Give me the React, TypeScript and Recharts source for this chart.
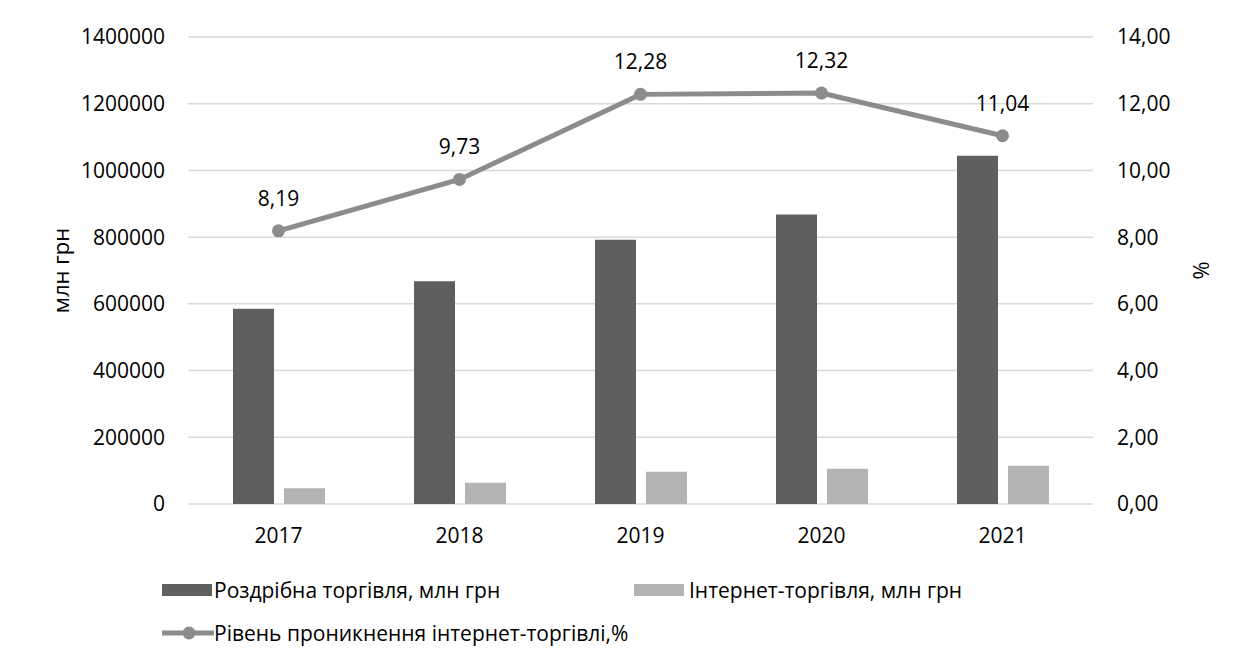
import React from 'react';
import {
  ComposedChart,
  Bar,
  Line,
  XAxis,
  YAxis,
  CartesianGrid,
  LabelList,
  Label,
} from 'recharts';

const years = ['2017', '2018', '2019', '2020', '2021'];
const retail = [585000, 668000, 792000, 868000, 1044000];
const online = [47000, 64000, 97000, 106000, 115000];
const penetration = [8.19, 9.73, 12.28, 12.32, 11.04];
const leftTicks = [0, 200000, 400000, 600000, 800000, 1000000, 1200000, 1400000];
const rightTicks = [0, 2, 4, 6, 8, 10, 12, 14];

const seriesNames = [
  'Роздрібна торгівля, млн грн',
  'Інтернет-торгівля, млн грн',
  'Рівень проникнення інтернет-торгівлі,%',
];

const data = years.map((y, i) => ({
  year: y,
  retail: retail[i],
  online: online[i],
  pen: penetration[i],
}));

const FONT = '"Open Sans", "Noto Sans", sans-serif';
const DARK = '#5f5f5f';
const LIGHT = '#b3b3b3';
const LINE = '#8c8c8c';
const TXT = '#000000';
const FS = 21;

const fmtPct = (v: number) => v.toFixed(2).replace('.', ',');

const LeftTitle = (props: any) => {
  const vb = props.viewBox || {};
  const x = vb.x - 18;
  const y = vb.y + vb.height / 2;
  return (
    <text
      x={x}
      y={y}
      transform={`rotate(-90, ${x}, ${y})`}
      textAnchor="middle"
      dominantBaseline="central"
      fontSize={22}
      fontFamily={FONT}
      fill={TXT}
    >
      млн грн
    </text>
  );
};

const RightTitle = (props: any) => {
  const vb = props.viewBox || {};
  const x = vb.x + 107;
  const y = vb.y + vb.height / 2;
  return (
    <text
      x={x}
      y={y}
      transform={`rotate(-90, ${x}, ${y})`}
      textAnchor="middle"
      dominantBaseline="central"
      fontSize={22}
      fontFamily={FONT}
      fill={TXT}
    >
      %
    </text>
  );
};

export default function App() {
  return (
    <div
      style={{
        position: 'relative',
        width: 1240,
        height: 660,
        marginLeft: -1,
        marginTop: -1,
        border: '1px solid #d9d9d9',
        background: '#fff',
        fontFamily: FONT,
        boxSizing: 'content-box',
      }}
    >
      <ComposedChart
        width={1232}
        height={652}
        data={data}
        margin={{ top: 29, right: 27, left: 70, bottom: 96 }}
        barGap={10}
        barSize={41}
      >
        <CartesianGrid
          vertical={false}
          stroke="#d9d9d9"
          strokeWidth={1.5}
          yAxisId="left"
        />
        <XAxis
          dataKey="year"
          axisLine={false}
          tickLine={false}
          tickSize={0}
          tickMargin={24}
          height={60}
          tick={{ fontSize: FS, fontFamily: FONT, fill: TXT }}
        />
        <YAxis
          yAxisId="left"
          orientation="left"
          width={110}
          domain={[0, 1400000]}
          ticks={leftTicks}
          interval={0}
          axisLine={false}
          tickLine={false}
          tickSize={0}
          tickMargin={23}
          tick={{ fontSize: FS, fontFamily: FONT, fill: TXT }}
        >
          <Label content={<LeftTitle />} />
        </YAxis>
        <YAxis
          yAxisId="right"
          orientation="right"
          width={120}
          domain={[0, 14]}
          ticks={rightTicks}
          interval={0}
          tickFormatter={fmtPct}
          axisLine={false}
          tickLine={false}
          tickSize={0}
          tickMargin={24}
          tick={{ fontSize: FS, fontFamily: FONT, fill: TXT }}
        >
          <Label content={<RightTitle />} />
        </YAxis>
        <Bar
          yAxisId="left"
          dataKey="retail"
          name={seriesNames[0]}
          fill={DARK}
          isAnimationActive={false}
        />
        <Bar
          yAxisId="left"
          dataKey="online"
          name={seriesNames[1]}
          fill={LIGHT}
          isAnimationActive={false}
        />
        <Line
          yAxisId="right"
          dataKey="pen"
          name={seriesNames[2]}
          stroke={LINE}
          strokeWidth={5}
          dot={{ r: 6.5, fill: LINE, stroke: LINE, strokeWidth: 0 }}
          activeDot={false}
          isAnimationActive={false}
        >
          <LabelList
            dataKey="pen"
            position="top"
            offset={25}
            formatter={(v: any) => fmtPct(Number(v))}
            style={{ fontSize: FS, fontFamily: FONT, fill: TXT }}
          />
        </Line>
      </ComposedChart>

      {/* Legend */}
      <div style={{ position: 'absolute', left: 154, top: 567, height: 30, display: 'flex', alignItems: 'center' }}>
        <div style={{ width: 50, height: 12, background: DARK }} />
        <span style={{ marginLeft: 2, fontSize: FS, color: TXT, whiteSpace: 'nowrap' }}>{seriesNames[0]}</span>
      </div>
      <div style={{ position: 'absolute', left: 626, top: 567, height: 30, display: 'flex', alignItems: 'center' }}>
        <div style={{ width: 50, height: 12, background: LIGHT }} />
        <span style={{ marginLeft: 5, fontSize: FS, color: TXT, whiteSpace: 'nowrap' }}>{seriesNames[1]}</span>
      </div>
      <div style={{ position: 'absolute', left: 154, top: 610, height: 30, display: 'flex', alignItems: 'center' }}>
        <svg width={52} height={16} style={{ display: 'block' }}>
          <line x1={0} y1={8} x2={52} y2={8} stroke={LINE} strokeWidth={5} />
          <circle cx={27} cy={8} r={6.5} fill={LINE} />
        </svg>
        <span style={{ marginLeft: 0, fontSize: FS, color: TXT, whiteSpace: 'nowrap' }}>{seriesNames[2]}</span>
      </div>
    </div>
  );
}
